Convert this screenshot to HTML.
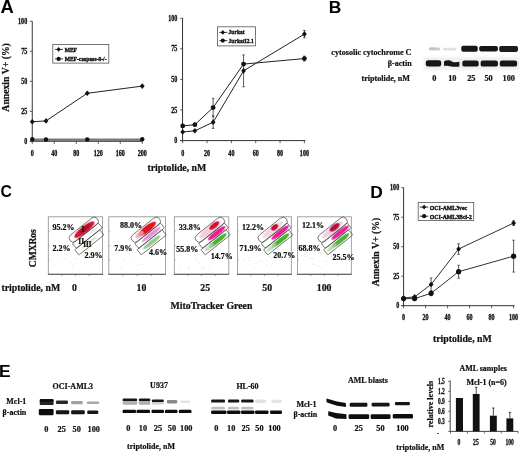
<!DOCTYPE html>
<html><head><meta charset="utf-8"><style>
html,body{margin:0;padding:0;background:#fff;}
body{width:520px;height:452px;overflow:hidden;}
svg{display:block;filter:blur(0.35px);}
</style></head><body>
<svg width="520" height="452" viewBox="0 0 520 452">
<defs>
<filter id="bl05" x="-20%" y="-20%" width="140%" height="140%"><feGaussianBlur stdDeviation="0.45"/></filter>
<filter id="bl1" x="-20%" y="-60%" width="140%" height="220%"><feGaussianBlur stdDeviation="0.55"/></filter>
<filter id="bl2" x="-10%" y="-20%" width="120%" height="140%"><feGaussianBlur stdDeviation="1.5"/></filter>
</defs>
<rect x="0" y="0" width="520" height="452" fill="#fff"/>
<text x="0.5" y="12.7" font-size="18.4" text-anchor="start" style="font-family:'Liberation Sans',sans-serif;font-weight:bold" fill="#000" >A</text>
<text x="328.8" y="12.7" font-size="17.4" text-anchor="start" style="font-family:'Liberation Sans',sans-serif;font-weight:bold" fill="#000" >B</text>
<text transform="translate(0.4,197.2) scale(0.9,1)" x="0" y="0" font-size="17.4" text-anchor="start" style="font-family:'Liberation Sans',sans-serif;font-weight:bold" fill="#000" >C</text>
<text x="370.2" y="197.6" font-size="17.4" text-anchor="start" style="font-family:'Liberation Sans',sans-serif;font-weight:bold" fill="#000" >D</text>
<text x="-0.9" y="377.0" font-size="17.4" text-anchor="start" style="font-family:'Liberation Sans',sans-serif;font-weight:bold" fill="#000" >E</text>
<line x1="32.25" y1="21.30" x2="32.25" y2="141.30" stroke="#333" stroke-width="1" />
<line x1="29.95" y1="141.30" x2="142.80" y2="141.30" stroke="#333" stroke-width="1" />
<line x1="29.95" y1="141.30" x2="32.25" y2="141.30" stroke="#333" stroke-width="0.8" />
<text transform="translate(27.2,143.9) scale(0.78,1)" x="0" y="0" font-size="7.8" text-anchor="end" style="font-family:'Liberation Serif',serif;font-weight:bold" fill="#111" stroke="#111" stroke-width="0.32" >0</text>
<line x1="29.95" y1="111.30" x2="32.25" y2="111.30" stroke="#333" stroke-width="0.8" />
<text transform="translate(27.2,113.9) scale(0.78,1)" x="0" y="0" font-size="7.8" text-anchor="end" style="font-family:'Liberation Serif',serif;font-weight:bold" fill="#111" stroke="#111" stroke-width="0.32" >25</text>
<line x1="29.95" y1="81.30" x2="32.25" y2="81.30" stroke="#333" stroke-width="0.8" />
<text transform="translate(27.2,83.9) scale(0.78,1)" x="0" y="0" font-size="7.8" text-anchor="end" style="font-family:'Liberation Serif',serif;font-weight:bold" fill="#111" stroke="#111" stroke-width="0.32" >50</text>
<line x1="29.95" y1="51.30" x2="32.25" y2="51.30" stroke="#333" stroke-width="0.8" />
<text transform="translate(27.2,53.90000000000001) scale(0.78,1)" x="0" y="0" font-size="7.8" text-anchor="end" style="font-family:'Liberation Serif',serif;font-weight:bold" fill="#111" stroke="#111" stroke-width="0.32" >75</text>
<line x1="29.95" y1="21.30" x2="32.25" y2="21.30" stroke="#333" stroke-width="0.8" />
<text transform="translate(27.2,23.900000000000013) scale(0.78,1)" x="0" y="0" font-size="7.8" text-anchor="end" style="font-family:'Liberation Serif',serif;font-weight:bold" fill="#111" stroke="#111" stroke-width="0.32" >100</text>
<line x1="32.25" y1="141.30" x2="32.25" y2="143.90" stroke="#333" stroke-width="0.8" />
<text transform="translate(32.25,155.7) scale(0.78,1)" x="0" y="0" font-size="7.8" text-anchor="middle" style="font-family:'Liberation Serif',serif;font-weight:bold" fill="#111" stroke="#111" stroke-width="0.32" >0</text>
<line x1="54.25" y1="141.30" x2="54.25" y2="143.90" stroke="#333" stroke-width="0.8" />
<text transform="translate(54.25,155.7) scale(0.78,1)" x="0" y="0" font-size="7.8" text-anchor="middle" style="font-family:'Liberation Serif',serif;font-weight:bold" fill="#111" stroke="#111" stroke-width="0.32" >40</text>
<line x1="76.25" y1="141.30" x2="76.25" y2="143.90" stroke="#333" stroke-width="0.8" />
<text transform="translate(76.25,155.7) scale(0.78,1)" x="0" y="0" font-size="7.8" text-anchor="middle" style="font-family:'Liberation Serif',serif;font-weight:bold" fill="#111" stroke="#111" stroke-width="0.32" >80</text>
<line x1="98.25" y1="141.30" x2="98.25" y2="143.90" stroke="#333" stroke-width="0.8" />
<text transform="translate(98.25,155.7) scale(0.78,1)" x="0" y="0" font-size="7.8" text-anchor="middle" style="font-family:'Liberation Serif',serif;font-weight:bold" fill="#111" stroke="#111" stroke-width="0.32" >120</text>
<line x1="120.25" y1="141.30" x2="120.25" y2="143.90" stroke="#333" stroke-width="0.8" />
<text transform="translate(120.25,155.7) scale(0.78,1)" x="0" y="0" font-size="7.8" text-anchor="middle" style="font-family:'Liberation Serif',serif;font-weight:bold" fill="#111" stroke="#111" stroke-width="0.32" >160</text>
<line x1="142.25" y1="141.30" x2="142.25" y2="143.90" stroke="#333" stroke-width="0.8" />
<text transform="translate(142.25,155.7) scale(0.78,1)" x="0" y="0" font-size="7.8" text-anchor="middle" style="font-family:'Liberation Serif',serif;font-weight:bold" fill="#111" stroke="#111" stroke-width="0.32" >200</text>
<text transform="translate(8.9,77.4) rotate(-90) scale(1.045,1)" x="0" y="0" font-size="9.3" text-anchor="middle" style="font-family:'Liberation Serif',serif;font-weight:bold" fill="#111" stroke="#111" stroke-width="0.22">Annexin V+ (%)</text>
<polyline points="32.25,139.74 46.00,139.86 87.25,139.86 142.25,139.74" fill="none" stroke="#7a7a7a" stroke-width="2.6" stroke-linejoin="round"/>
<polyline points="32.25,121.74 46.00,120.90 87.25,93.30 142.25,86.10" fill="none" stroke="#222" stroke-width="1" stroke-linejoin="round"/>
<polygon points="32.25,118.94 34.63,121.74 32.25,124.54 29.87,121.74" fill="#111"/>
<polygon points="46.00,118.10 48.38,120.90 46.00,123.70 43.62,120.90" fill="#111"/>
<polygon points="87.25,90.50 89.63,93.30 87.25,96.10 84.87,93.30" fill="#111"/>
<polygon points="142.25,83.30 144.63,86.10 142.25,88.90 139.87,86.10" fill="#111"/>
<circle cx="32.25" cy="139.14" r="2.2" fill="#111"/>
<circle cx="46.00" cy="139.50" r="2.2" fill="#111"/>
<circle cx="87.25" cy="139.50" r="2.2" fill="#111"/>
<circle cx="142.25" cy="139.14" r="2.2" fill="#111"/>
<rect x="52.8" y="44.4" width="56" height="18.7" fill="#fff" stroke="#555" stroke-width="0.8"/>
<line x1="55.00" y1="49.40" x2="63.00" y2="49.40" stroke="#222" stroke-width="0.9" />
<polygon points="58.60,47.00 60.64,49.40 58.60,51.80 56.56,49.40" fill="#111"/>
<line x1="55.00" y1="58.90" x2="63.00" y2="58.90" stroke="#222" stroke-width="0.9" />
<circle cx="58.60" cy="58.90" r="2.1" fill="#111"/>
<text transform="translate(64.7,51.6) scale(0.88,1)" x="0" y="0" font-size="6.3" text-anchor="start" style="font-family:'Liberation Serif',serif;font-weight:bold" fill="#111" stroke="#111" stroke-width="0.38" >MEF</text>
<text transform="translate(64.7,60.8) scale(0.88,1)" x="0" y="0" font-size="6.3" text-anchor="start" style="font-family:'Liberation Serif',serif;font-weight:bold" fill="#111" stroke="#111" stroke-width="0.38" >MEF-caspase-9-/-</text>
<line x1="182.55" y1="18.00" x2="182.55" y2="140.60" stroke="#333" stroke-width="1" />
<line x1="180.25" y1="140.60" x2="305.30" y2="140.60" stroke="#333" stroke-width="1" />
<line x1="180.25" y1="140.60" x2="182.55" y2="140.60" stroke="#333" stroke-width="0.8" />
<text transform="translate(177.3,143.2) scale(0.78,1)" x="0" y="0" font-size="7.8" text-anchor="end" style="font-family:'Liberation Serif',serif;font-weight:bold" fill="#111" stroke="#111" stroke-width="0.32" >0</text>
<line x1="180.25" y1="110.00" x2="182.55" y2="110.00" stroke="#333" stroke-width="0.8" />
<text transform="translate(177.3,112.6) scale(0.78,1)" x="0" y="0" font-size="7.8" text-anchor="end" style="font-family:'Liberation Serif',serif;font-weight:bold" fill="#111" stroke="#111" stroke-width="0.32" >25</text>
<line x1="180.25" y1="79.40" x2="182.55" y2="79.40" stroke="#333" stroke-width="0.8" />
<text transform="translate(177.3,81.99999999999999) scale(0.78,1)" x="0" y="0" font-size="7.8" text-anchor="end" style="font-family:'Liberation Serif',serif;font-weight:bold" fill="#111" stroke="#111" stroke-width="0.32" >50</text>
<line x1="180.25" y1="48.80" x2="182.55" y2="48.80" stroke="#333" stroke-width="0.8" />
<text transform="translate(177.3,51.399999999999984) scale(0.78,1)" x="0" y="0" font-size="7.8" text-anchor="end" style="font-family:'Liberation Serif',serif;font-weight:bold" fill="#111" stroke="#111" stroke-width="0.32" >75</text>
<line x1="180.25" y1="18.20" x2="182.55" y2="18.20" stroke="#333" stroke-width="0.8" />
<text transform="translate(177.3,20.79999999999999) scale(0.78,1)" x="0" y="0" font-size="7.8" text-anchor="end" style="font-family:'Liberation Serif',serif;font-weight:bold" fill="#111" stroke="#111" stroke-width="0.32" >100</text>
<line x1="182.70" y1="140.60" x2="182.70" y2="143.20" stroke="#333" stroke-width="0.8" />
<text transform="translate(182.7,156) scale(0.78,1)" x="0" y="0" font-size="7.8" text-anchor="middle" style="font-family:'Liberation Serif',serif;font-weight:bold" fill="#111" stroke="#111" stroke-width="0.32" >0</text>
<line x1="207.04" y1="140.60" x2="207.04" y2="143.20" stroke="#333" stroke-width="0.8" />
<text transform="translate(207.04,156) scale(0.78,1)" x="0" y="0" font-size="7.8" text-anchor="middle" style="font-family:'Liberation Serif',serif;font-weight:bold" fill="#111" stroke="#111" stroke-width="0.32" >20</text>
<line x1="231.38" y1="140.60" x2="231.38" y2="143.20" stroke="#333" stroke-width="0.8" />
<text transform="translate(231.38,156) scale(0.78,1)" x="0" y="0" font-size="7.8" text-anchor="middle" style="font-family:'Liberation Serif',serif;font-weight:bold" fill="#111" stroke="#111" stroke-width="0.32" >40</text>
<line x1="255.72" y1="140.60" x2="255.72" y2="143.20" stroke="#333" stroke-width="0.8" />
<text transform="translate(255.71999999999997,156) scale(0.78,1)" x="0" y="0" font-size="7.8" text-anchor="middle" style="font-family:'Liberation Serif',serif;font-weight:bold" fill="#111" stroke="#111" stroke-width="0.32" >60</text>
<line x1="280.06" y1="140.60" x2="280.06" y2="143.20" stroke="#333" stroke-width="0.8" />
<text transform="translate(280.06,156) scale(0.78,1)" x="0" y="0" font-size="7.8" text-anchor="middle" style="font-family:'Liberation Serif',serif;font-weight:bold" fill="#111" stroke="#111" stroke-width="0.32" >80</text>
<line x1="304.40" y1="140.60" x2="304.40" y2="143.20" stroke="#333" stroke-width="0.8" />
<text transform="translate(304.4,156) scale(0.78,1)" x="0" y="0" font-size="7.8" text-anchor="middle" style="font-family:'Liberation Serif',serif;font-weight:bold" fill="#111" stroke="#111" stroke-width="0.32" >100</text>
<line x1="213.12" y1="116.12" x2="213.12" y2="128.36" stroke="#333" stroke-width="0.8" />
<line x1="211.93" y1="116.12" x2="214.32" y2="116.12" stroke="#333" stroke-width="0.8" />
<line x1="211.93" y1="128.36" x2="214.32" y2="128.36" stroke="#333" stroke-width="0.8" />
<line x1="213.12" y1="98.37" x2="213.12" y2="116.12" stroke="#333" stroke-width="0.8" />
<line x1="211.93" y1="98.37" x2="214.32" y2="98.37" stroke="#333" stroke-width="0.8" />
<line x1="211.93" y1="116.12" x2="214.32" y2="116.12" stroke="#333" stroke-width="0.8" />
<line x1="243.55" y1="54.92" x2="243.55" y2="86.74" stroke="#333" stroke-width="0.8" />
<line x1="242.35" y1="54.92" x2="244.75" y2="54.92" stroke="#333" stroke-width="0.8" />
<line x1="242.35" y1="86.74" x2="244.75" y2="86.74" stroke="#333" stroke-width="0.8" />
<line x1="304.40" y1="30.44" x2="304.40" y2="37.78" stroke="#333" stroke-width="0.8" />
<line x1="303.20" y1="30.44" x2="305.60" y2="30.44" stroke="#333" stroke-width="0.8" />
<line x1="303.20" y1="37.78" x2="305.60" y2="37.78" stroke="#333" stroke-width="0.8" />
<line x1="304.40" y1="56.14" x2="304.40" y2="61.04" stroke="#333" stroke-width="0.8" />
<line x1="303.20" y1="56.14" x2="305.60" y2="56.14" stroke="#333" stroke-width="0.8" />
<line x1="303.20" y1="61.04" x2="305.60" y2="61.04" stroke="#333" stroke-width="0.8" />
<polyline points="182.70,132.03 194.87,130.81 213.12,122.24 243.55,70.83 304.40,34.11" fill="none" stroke="#222" stroke-width="1" stroke-linejoin="round"/>
<polyline points="182.70,125.91 194.87,124.69 213.12,107.55 243.55,64.10 304.40,58.59" fill="none" stroke="#222" stroke-width="1" stroke-linejoin="round"/>
<polygon points="182.70,129.23 185.08,132.03 182.70,134.83 180.32,132.03" fill="#111"/>
<polygon points="194.87,128.01 197.25,130.81 194.87,133.61 192.49,130.81" fill="#111"/>
<polygon points="213.12,119.44 215.50,122.24 213.12,125.04 210.75,122.24" fill="#111"/>
<polygon points="243.55,68.03 245.93,70.83 243.55,73.63 241.17,70.83" fill="#111"/>
<polygon points="304.40,31.31 306.78,34.11 304.40,36.91 302.02,34.11" fill="#111"/>
<circle cx="182.70" cy="125.91" r="2.4" fill="#111"/>
<circle cx="194.87" cy="124.69" r="2.4" fill="#111"/>
<circle cx="213.12" cy="107.55" r="2.4" fill="#111"/>
<circle cx="243.55" cy="64.10" r="2.4" fill="#111"/>
<circle cx="304.40" cy="58.59" r="2.4" fill="#111"/>
<rect x="217.5" y="26.8" width="38" height="19.1" fill="#fff" stroke="#555" stroke-width="0.8"/>
<line x1="219.40" y1="32.40" x2="227.30" y2="32.40" stroke="#222" stroke-width="0.9" />
<polygon points="222.80,30.00 224.84,32.40 222.80,34.80 220.76,32.40" fill="#111"/>
<line x1="219.40" y1="40.60" x2="227.30" y2="40.60" stroke="#222" stroke-width="0.9" />
<circle cx="222.80" cy="40.60" r="2.1" fill="#111"/>
<text transform="translate(228.6,34.3) scale(0.88,1)" x="0" y="0" font-size="6.3" text-anchor="start" style="font-family:'Liberation Serif',serif;font-weight:bold" fill="#111" stroke="#111" stroke-width="0.38" >Jurkat</text>
<text transform="translate(228.6,42.9) scale(0.88,1)" x="0" y="0" font-size="6.3" text-anchor="start" style="font-family:'Liberation Serif',serif;font-weight:bold" fill="#111" stroke="#111" stroke-width="0.38" >JurkatI2.1</text>
<text x="147.5" y="171.2" font-size="9.8" text-anchor="start" style="font-family:'Liberation Serif',serif;font-weight:bold" fill="#111" stroke="#111" stroke-width="0.22" >triptolide, nM</text>
<text transform="translate(411.5,54.8) scale(0.885,1)" x="0" y="0" font-size="9.2" text-anchor="end" style="font-family:'Liberation Serif',serif;font-weight:bold" fill="#111" stroke="#111" stroke-width="0.22" >cytosolic cytochrome C</text>
<text transform="translate(411.8,66.4) scale(0.885,1)" x="0" y="0" font-size="9.2" text-anchor="end" style="font-family:'Liberation Serif',serif;font-weight:bold" fill="#111" stroke="#111" stroke-width="0.22" >&#946;-actin</text>
<text transform="translate(410,81.0) scale(0.93,1)" x="0" y="0" font-size="8.7" text-anchor="end" style="font-family:'Liberation Serif',serif;font-weight:bold" fill="#111" stroke="#111" stroke-width="0.22" >triptolide, nM</text>
<text x="434.3" y="80.8" font-size="8.3" text-anchor="middle" style="font-family:'Liberation Serif',serif;font-weight:bold" fill="#111" stroke="#111" stroke-width="0.22" >0</text>
<text x="452.3" y="80.8" font-size="8.3" text-anchor="middle" style="font-family:'Liberation Serif',serif;font-weight:bold" fill="#111" stroke="#111" stroke-width="0.22" >10</text>
<text x="471.3" y="80.8" font-size="8.3" text-anchor="middle" style="font-family:'Liberation Serif',serif;font-weight:bold" fill="#111" stroke="#111" stroke-width="0.22" >25</text>
<text x="488.6" y="80.8" font-size="8.3" text-anchor="middle" style="font-family:'Liberation Serif',serif;font-weight:bold" fill="#111" stroke="#111" stroke-width="0.22" >50</text>
<text x="508.8" y="80.8" font-size="8.3" text-anchor="middle" style="font-family:'Liberation Serif',serif;font-weight:bold" fill="#111" stroke="#111" stroke-width="0.22" >100</text>
<rect x="424" y="57" width="96" height="13" fill="#efefef" filter="url(#bl2)"/>
<rect x="428.70" y="47.40" width="11.50" height="3.00" rx="1.5" fill="#cdcdcd" filter="url(#bl1)"/>
<rect x="429.50" y="47.60" width="6.50" height="2.00" rx="1" fill="#c0c0c0" filter="url(#bl1)"/>
<rect x="443.00" y="47.80" width="13.50" height="2.60" rx="1.5" fill="#e0e0e0" filter="url(#bl1)"/>
<rect x="461.30" y="45.80" width="16.40" height="5.90" rx="1.8" fill="#151515" filter="url(#bl1)"/>
<rect x="479.20" y="45.90" width="18.70" height="5.50" rx="1.8" fill="#191919" filter="url(#bl1)"/>
<rect x="499.20" y="45.90" width="18.80" height="6.00" rx="1.8" fill="#1b1b1b" filter="url(#bl1)"/>
<rect x="425.80" y="60.30" width="15.40" height="6.20" rx="2.2" fill="#121212" filter="url(#bl1)"/>
<path d="M444,61.2 C447,59.6 450,60.0 452,61.4 C454.5,62.8 457,62.0 459.4,61.8 L459.4,66.6 C455,67.2 450,66.4 447,65.8 C445.5,65.6 444.2,65.8 444,66.0 Z" fill="#161616" filter="url(#bl1)"/>
<rect x="462.30" y="60.60" width="16.40" height="6.00" rx="2.2" fill="#121212" filter="url(#bl1)"/>
<rect x="480.60" y="60.60" width="17.30" height="6.00" rx="2.2" fill="#121212" filter="url(#bl1)"/>
<rect x="499.80" y="60.60" width="17.30" height="6.00" rx="2.2" fill="#121212" filter="url(#bl1)"/>
<rect x="48.3" y="216.8" width="54.30" height="57.50" fill="#fff" stroke="#8e8e8e" stroke-width="0.8"/>
<line x1="47.90" y1="274.30" x2="103.00" y2="274.30" stroke="#505050" stroke-width="1.1" />
<line x1="48.30" y1="231.18" x2="49.80" y2="231.18" stroke="#999" stroke-width="0.6" />
<line x1="61.88" y1="274.30" x2="61.88" y2="275.90" stroke="#666" stroke-width="0.7" />
<line x1="48.30" y1="245.55" x2="49.80" y2="245.55" stroke="#999" stroke-width="0.6" />
<line x1="75.45" y1="274.30" x2="75.45" y2="275.90" stroke="#666" stroke-width="0.7" />
<line x1="48.30" y1="259.93" x2="49.80" y2="259.93" stroke="#999" stroke-width="0.6" />
<line x1="89.02" y1="274.30" x2="89.02" y2="275.90" stroke="#666" stroke-width="0.7" />
<circle cx="61.27" cy="257.17" r="0.5" fill="#cfcfcf"/>
<circle cx="65.14" cy="258.75" r="0.5" fill="#cfcfcf"/>
<circle cx="72.63" cy="244.42" r="0.5" fill="#cfcfcf"/>
<circle cx="54.69" cy="264.97" r="0.5" fill="#cfcfcf"/>
<circle cx="61.90" cy="248.91" r="0.5" fill="#cfcfcf"/>
<circle cx="83.47" cy="255.20" r="0.5" fill="#cfcfcf"/>
<circle cx="78.80" cy="255.36" r="0.5" fill="#cfcfcf"/>
<circle cx="73.02" cy="246.69" r="0.5" fill="#cfcfcf"/>
<circle cx="72.90" cy="265.79" r="0.5" fill="#cfcfcf"/>
<circle cx="69.63" cy="262.41" r="0.5" fill="#cfcfcf"/>
<circle cx="73.97" cy="244.38" r="0.5" fill="#cfcfcf"/>
<circle cx="76.51" cy="258.41" r="0.5" fill="#cfcfcf"/>
<g transform="translate(48.30,216.8)">
<ellipse cx="0" cy="0" rx="12.5" ry="3.6" transform="translate(35.46935779816514,12.9) rotate(-38.5) translate(0.5,0.3)" fill="#dc1430" opacity="1" filter="url(#bl05)"/>
<ellipse cx="0" cy="0" rx="7" ry="2.2" transform="translate(35.46935779816514,12.9) rotate(-38.5) translate(2,0)" fill="#b80c28" opacity="1" filter="url(#bl05)"/>
<ellipse cx="0" cy="0" rx="5" ry="1.4" transform="translate(39.05614678899083,18.9) rotate(-38.5) translate(8,0)" fill="#f4c8dc" opacity="0.5" filter="url(#bl05)"/>
<ellipse cx="0" cy="0" rx="10" ry="1.5" transform="translate(41.048807339449546,25.5) rotate(-38.5) translate(0,0)" fill="#c4e2bc" opacity="0.7" filter="url(#bl05)"/>
<rect x="-17.5" y="-4.1" width="35" height="8.2" rx="4.0" transform="translate(35.46935779816514,12.9) rotate(-38.5)" fill="none" stroke="#4a4a4a" stroke-width="0.7"/>
<rect x="-16.5" y="-3.2" width="33" height="6.4" rx="1.0" transform="translate(39.05614678899083,18.9) rotate(-38.5)" fill="none" stroke="#4a4a4a" stroke-width="0.7"/>
<rect x="-16.0" y="-3.4" width="32" height="6.8" rx="1.0" transform="translate(41.048807339449546,25.5) rotate(-38.5)" fill="none" stroke="#4a4a4a" stroke-width="0.7"/>
</g>
<text x="52.5" y="229.8" font-size="8.0" text-anchor="start" style="font-family:'Liberation Serif',serif;font-weight:bold" fill="#111" stroke="#111" stroke-width="0.22" >95.2%</text>
<text x="52.5" y="251.0" font-size="8.0" text-anchor="start" style="font-family:'Liberation Serif',serif;font-weight:bold" fill="#111" stroke="#111" stroke-width="0.22" >2.2%</text>
<text x="84.6" y="258.3" font-size="8.0" text-anchor="start" style="font-family:'Liberation Serif',serif;font-weight:bold" fill="#111" stroke="#111" stroke-width="0.22" >2.9%</text>
<rect x="108.8" y="216.8" width="56.70" height="57.50" fill="#fff" stroke="#8e8e8e" stroke-width="0.8"/>
<line x1="108.40" y1="274.30" x2="165.90" y2="274.30" stroke="#505050" stroke-width="1.1" />
<line x1="108.80" y1="231.18" x2="110.30" y2="231.18" stroke="#999" stroke-width="0.6" />
<line x1="122.97" y1="274.30" x2="122.97" y2="275.90" stroke="#666" stroke-width="0.7" />
<line x1="108.80" y1="245.55" x2="110.30" y2="245.55" stroke="#999" stroke-width="0.6" />
<line x1="137.15" y1="274.30" x2="137.15" y2="275.90" stroke="#666" stroke-width="0.7" />
<line x1="108.80" y1="259.93" x2="110.30" y2="259.93" stroke="#999" stroke-width="0.6" />
<line x1="151.32" y1="274.30" x2="151.32" y2="275.90" stroke="#666" stroke-width="0.7" />
<circle cx="122.08" cy="245.42" r="0.5" fill="#cfcfcf"/>
<circle cx="127.02" cy="246.80" r="0.5" fill="#cfcfcf"/>
<circle cx="116.85" cy="253.37" r="0.5" fill="#cfcfcf"/>
<circle cx="143.12" cy="263.99" r="0.5" fill="#cfcfcf"/>
<circle cx="138.41" cy="248.58" r="0.5" fill="#cfcfcf"/>
<circle cx="131.36" cy="250.04" r="0.5" fill="#cfcfcf"/>
<circle cx="120.13" cy="245.50" r="0.5" fill="#cfcfcf"/>
<circle cx="121.42" cy="267.37" r="0.5" fill="#cfcfcf"/>
<circle cx="140.38" cy="264.15" r="0.5" fill="#cfcfcf"/>
<circle cx="139.50" cy="247.83" r="0.5" fill="#cfcfcf"/>
<circle cx="124.36" cy="259.37" r="0.5" fill="#cfcfcf"/>
<circle cx="137.38" cy="265.43" r="0.5" fill="#cfcfcf"/>
<circle cx="141.95" cy="244.98" r="0.5" fill="#cfcfcf"/>
<circle cx="133.49" cy="260.56" r="0.5" fill="#cfcfcf"/>
<circle cx="130.41" cy="247.41" r="0.5" fill="#cfcfcf"/>
<g transform="translate(108.80,216.8)">
<ellipse cx="0" cy="0" rx="11" ry="3.2" transform="translate(37.03706422018349,12.9) rotate(-38.5) translate(1.5,0.2)" fill="#e0141e" opacity="1" filter="url(#bl05)"/>
<ellipse cx="0" cy="0" rx="5" ry="2.5" transform="translate(37.03706422018349,12.9) rotate(-38.5) translate(-8,0)" fill="#f4a0b8" opacity="0.8" filter="url(#bl05)"/>
<ellipse cx="0" cy="0" rx="12" ry="2.2" transform="translate(40.782385321100925,18.9) rotate(-38.5) translate(2,0)" fill="#e08ad8" opacity="0.9" filter="url(#bl05)"/>
<ellipse cx="0" cy="0" rx="11" ry="2.0" transform="translate(42.86311926605505,25.5) rotate(-38.5) translate(0,0)" fill="#7ac070" opacity="0.8" filter="url(#bl05)"/>
<rect x="-17.5" y="-4.1" width="35" height="8.2" rx="4.0" transform="translate(37.03706422018349,12.9) rotate(-38.5)" fill="none" stroke="#4a4a4a" stroke-width="0.7"/>
<rect x="-16.5" y="-3.2" width="33" height="6.4" rx="1.0" transform="translate(40.782385321100925,18.9) rotate(-38.5)" fill="none" stroke="#4a4a4a" stroke-width="0.7"/>
<rect x="-16.0" y="-3.4" width="32" height="6.8" rx="1.0" transform="translate(42.86311926605505,25.5) rotate(-38.5)" fill="none" stroke="#4a4a4a" stroke-width="0.7"/>
</g>
<text x="120" y="227.5" font-size="8.0" text-anchor="start" style="font-family:'Liberation Serif',serif;font-weight:bold" fill="#111" stroke="#111" stroke-width="0.22" >88.0%</text>
<text x="114.3" y="250.9" font-size="8.0" text-anchor="start" style="font-family:'Liberation Serif',serif;font-weight:bold" fill="#111" stroke="#111" stroke-width="0.22" >7.9%</text>
<text x="149" y="255.4" font-size="8.0" text-anchor="start" style="font-family:'Liberation Serif',serif;font-weight:bold" fill="#111" stroke="#111" stroke-width="0.22" >4.6%</text>
<rect x="174.3" y="216.8" width="54.50" height="57.50" fill="#fff" stroke="#8e8e8e" stroke-width="0.8"/>
<line x1="173.90" y1="274.30" x2="229.20" y2="274.30" stroke="#505050" stroke-width="1.1" />
<line x1="174.30" y1="231.18" x2="175.80" y2="231.18" stroke="#999" stroke-width="0.6" />
<line x1="187.93" y1="274.30" x2="187.93" y2="275.90" stroke="#666" stroke-width="0.7" />
<line x1="174.30" y1="245.55" x2="175.80" y2="245.55" stroke="#999" stroke-width="0.6" />
<line x1="201.55" y1="274.30" x2="201.55" y2="275.90" stroke="#666" stroke-width="0.7" />
<line x1="174.30" y1="259.93" x2="175.80" y2="259.93" stroke="#999" stroke-width="0.6" />
<line x1="215.18" y1="274.30" x2="215.18" y2="275.90" stroke="#666" stroke-width="0.7" />
<circle cx="198.63" cy="262.43" r="0.5" fill="#cfcfcf"/>
<circle cx="203.70" cy="267.77" r="0.5" fill="#cfcfcf"/>
<circle cx="202.07" cy="267.23" r="0.5" fill="#cfcfcf"/>
<circle cx="181.15" cy="255.07" r="0.5" fill="#cfcfcf"/>
<circle cx="208.06" cy="259.95" r="0.5" fill="#cfcfcf"/>
<circle cx="206.81" cy="245.69" r="0.5" fill="#cfcfcf"/>
<circle cx="194.10" cy="249.24" r="0.5" fill="#cfcfcf"/>
<circle cx="196.30" cy="257.96" r="0.5" fill="#cfcfcf"/>
<circle cx="180.69" cy="248.45" r="0.5" fill="#cfcfcf"/>
<circle cx="188.52" cy="267.07" r="0.5" fill="#cfcfcf"/>
<circle cx="202.83" cy="246.92" r="0.5" fill="#cfcfcf"/>
<circle cx="203.76" cy="246.37" r="0.5" fill="#cfcfcf"/>
<circle cx="198.47" cy="246.05" r="0.5" fill="#cfcfcf"/>
<circle cx="180.35" cy="265.88" r="0.5" fill="#cfcfcf"/>
<circle cx="186.46" cy="248.41" r="0.5" fill="#cfcfcf"/>
<circle cx="209.21" cy="265.90" r="0.5" fill="#cfcfcf"/>
<circle cx="188.81" cy="268.27" r="0.5" fill="#cfcfcf"/>
<circle cx="196.17" cy="260.72" r="0.5" fill="#cfcfcf"/>
<g transform="translate(174.30,216.8)">
<ellipse cx="0" cy="0" rx="13" ry="3.4" transform="translate(35.6,12.9) rotate(-38.5) translate(0,0)" fill="#f2c2d8" opacity="0.8" filter="url(#bl05)"/>
<ellipse cx="0" cy="0" rx="6" ry="2.6" transform="translate(35.6,12.9) rotate(-38.5) translate(6,-0.5)" fill="#d8102c" opacity="1" filter="url(#bl05)"/>
<ellipse cx="0" cy="0" rx="11" ry="2.6" transform="translate(39.2,18.9) rotate(-38.5) translate(4,0)" fill="#ec1c96" opacity="1" filter="url(#bl05)"/>
<ellipse cx="0" cy="0" rx="11" ry="2.3" transform="translate(41.2,25.5) rotate(-38.5) translate(3,0)" fill="#4cb030" opacity="1" filter="url(#bl05)"/>
<ellipse cx="0" cy="0" rx="6" ry="1.8" transform="translate(41.2,25.5) rotate(-38.5) translate(-8,0)" fill="#a8d8a0" opacity="0.8" filter="url(#bl05)"/>
<rect x="-17.5" y="-4.1" width="35" height="8.2" rx="4.0" transform="translate(35.6,12.9) rotate(-38.5)" fill="none" stroke="#4a4a4a" stroke-width="0.7"/>
<rect x="-16.5" y="-3.2" width="33" height="6.4" rx="1.0" transform="translate(39.2,18.9) rotate(-38.5)" fill="none" stroke="#4a4a4a" stroke-width="0.7"/>
<rect x="-16.0" y="-3.4" width="32" height="6.8" rx="1.0" transform="translate(41.2,25.5) rotate(-38.5)" fill="none" stroke="#4a4a4a" stroke-width="0.7"/>
</g>
<text x="178.75" y="229.5" font-size="8.0" text-anchor="start" style="font-family:'Liberation Serif',serif;font-weight:bold" fill="#111" stroke="#111" stroke-width="0.22" >33.8%</text>
<text x="176.25" y="251.5" font-size="8.0" text-anchor="start" style="font-family:'Liberation Serif',serif;font-weight:bold" fill="#111" stroke="#111" stroke-width="0.22" >55.8%</text>
<text x="210.75" y="258.75" font-size="8.0" text-anchor="start" style="font-family:'Liberation Serif',serif;font-weight:bold" fill="#111" stroke="#111" stroke-width="0.22" >14.7%</text>
<rect x="237.5" y="216.8" width="53.80" height="57.50" fill="#fff" stroke="#8e8e8e" stroke-width="0.8"/>
<line x1="237.10" y1="274.30" x2="291.70" y2="274.30" stroke="#505050" stroke-width="1.1" />
<line x1="237.50" y1="231.18" x2="239.00" y2="231.18" stroke="#999" stroke-width="0.6" />
<line x1="250.95" y1="274.30" x2="250.95" y2="275.90" stroke="#666" stroke-width="0.7" />
<line x1="237.50" y1="245.55" x2="239.00" y2="245.55" stroke="#999" stroke-width="0.6" />
<line x1="264.40" y1="274.30" x2="264.40" y2="275.90" stroke="#666" stroke-width="0.7" />
<line x1="237.50" y1="259.93" x2="239.00" y2="259.93" stroke="#999" stroke-width="0.6" />
<line x1="277.85" y1="274.30" x2="277.85" y2="275.90" stroke="#666" stroke-width="0.7" />
<circle cx="266.48" cy="264.56" r="0.5" fill="#cfcfcf"/>
<circle cx="257.55" cy="249.64" r="0.5" fill="#cfcfcf"/>
<circle cx="243.51" cy="260.32" r="0.5" fill="#cfcfcf"/>
<circle cx="257.12" cy="262.90" r="0.5" fill="#cfcfcf"/>
<circle cx="254.31" cy="263.18" r="0.5" fill="#cfcfcf"/>
<circle cx="251.40" cy="264.03" r="0.5" fill="#cfcfcf"/>
<circle cx="264.64" cy="253.70" r="0.5" fill="#cfcfcf"/>
<circle cx="259.09" cy="260.83" r="0.5" fill="#cfcfcf"/>
<circle cx="249.09" cy="257.42" r="0.5" fill="#cfcfcf"/>
<circle cx="266.82" cy="249.74" r="0.5" fill="#cfcfcf"/>
<circle cx="266.77" cy="260.93" r="0.5" fill="#cfcfcf"/>
<circle cx="267.96" cy="251.61" r="0.5" fill="#cfcfcf"/>
<circle cx="246.20" cy="263.98" r="0.5" fill="#cfcfcf"/>
<circle cx="266.81" cy="254.53" r="0.5" fill="#cfcfcf"/>
<circle cx="246.22" cy="247.92" r="0.5" fill="#cfcfcf"/>
<circle cx="261.89" cy="250.43" r="0.5" fill="#cfcfcf"/>
<circle cx="271.06" cy="258.35" r="0.5" fill="#cfcfcf"/>
<circle cx="249.32" cy="260.13" r="0.5" fill="#cfcfcf"/>
<circle cx="253.94" cy="267.51" r="0.5" fill="#cfcfcf"/>
<circle cx="269.85" cy="256.38" r="0.5" fill="#cfcfcf"/>
<circle cx="262.17" cy="261.26" r="0.5" fill="#cfcfcf"/>
<g transform="translate(237.50,216.8)">
<ellipse cx="0" cy="0" rx="13" ry="3.3" transform="translate(35.14275229357799,12.9) rotate(-38.5) translate(0,0)" fill="#f4cce0" opacity="0.8" filter="url(#bl05)"/>
<ellipse cx="0" cy="0" rx="4" ry="2.4" transform="translate(35.14275229357799,12.9) rotate(-38.5) translate(3,-0.6)" fill="#c8102c" opacity="1" filter="url(#bl05)"/>
<ellipse cx="0" cy="0" rx="11" ry="2.5" transform="translate(38.6965137614679,18.9) rotate(-38.5) translate(5,0)" fill="#ec1c96" opacity="1" filter="url(#bl05)"/>
<ellipse cx="0" cy="0" rx="11" ry="2.3" transform="translate(40.67082568807341,25.5) rotate(-38.5) translate(3,0)" fill="#48b02c" opacity="1" filter="url(#bl05)"/>
<ellipse cx="0" cy="0" rx="6" ry="1.8" transform="translate(40.67082568807341,25.5) rotate(-38.5) translate(-8,0)" fill="#a8d8a0" opacity="0.8" filter="url(#bl05)"/>
<rect x="-17.5" y="-4.1" width="35" height="8.2" rx="4.0" transform="translate(35.14275229357799,12.9) rotate(-38.5)" fill="none" stroke="#4a4a4a" stroke-width="0.7"/>
<rect x="-16.5" y="-3.2" width="33" height="6.4" rx="1.0" transform="translate(38.6965137614679,18.9) rotate(-38.5)" fill="none" stroke="#4a4a4a" stroke-width="0.7"/>
<rect x="-16.0" y="-3.4" width="32" height="6.8" rx="1.0" transform="translate(40.67082568807341,25.5) rotate(-38.5)" fill="none" stroke="#4a4a4a" stroke-width="0.7"/>
</g>
<text x="242" y="229.5" font-size="8.0" text-anchor="start" style="font-family:'Liberation Serif',serif;font-weight:bold" fill="#111" stroke="#111" stroke-width="0.22" >12.2%</text>
<text x="239.5" y="251.0" font-size="8.0" text-anchor="start" style="font-family:'Liberation Serif',serif;font-weight:bold" fill="#111" stroke="#111" stroke-width="0.22" >71.9%</text>
<text x="273.25" y="257.5" font-size="8.0" text-anchor="start" style="font-family:'Liberation Serif',serif;font-weight:bold" fill="#111" stroke="#111" stroke-width="0.22" >20.7%</text>
<rect x="297.5" y="216.8" width="53.80" height="57.50" fill="#fff" stroke="#8e8e8e" stroke-width="0.8"/>
<line x1="297.10" y1="274.30" x2="351.70" y2="274.30" stroke="#505050" stroke-width="1.1" />
<line x1="297.50" y1="231.18" x2="299.00" y2="231.18" stroke="#999" stroke-width="0.6" />
<line x1="310.95" y1="274.30" x2="310.95" y2="275.90" stroke="#666" stroke-width="0.7" />
<line x1="297.50" y1="245.55" x2="299.00" y2="245.55" stroke="#999" stroke-width="0.6" />
<line x1="324.40" y1="274.30" x2="324.40" y2="275.90" stroke="#666" stroke-width="0.7" />
<line x1="297.50" y1="259.93" x2="299.00" y2="259.93" stroke="#999" stroke-width="0.6" />
<line x1="337.85" y1="274.30" x2="337.85" y2="275.90" stroke="#666" stroke-width="0.7" />
<circle cx="312.88" cy="246.69" r="0.5" fill="#cfcfcf"/>
<circle cx="322.36" cy="244.60" r="0.5" fill="#cfcfcf"/>
<circle cx="319.02" cy="252.41" r="0.5" fill="#cfcfcf"/>
<circle cx="305.18" cy="256.19" r="0.5" fill="#cfcfcf"/>
<circle cx="304.59" cy="254.22" r="0.5" fill="#cfcfcf"/>
<circle cx="305.52" cy="245.09" r="0.5" fill="#cfcfcf"/>
<circle cx="315.80" cy="264.69" r="0.5" fill="#cfcfcf"/>
<circle cx="307.09" cy="248.62" r="0.5" fill="#cfcfcf"/>
<circle cx="321.68" cy="267.91" r="0.5" fill="#cfcfcf"/>
<circle cx="320.22" cy="253.24" r="0.5" fill="#cfcfcf"/>
<circle cx="331.78" cy="243.92" r="0.5" fill="#cfcfcf"/>
<circle cx="328.37" cy="250.39" r="0.5" fill="#cfcfcf"/>
<circle cx="307.68" cy="245.81" r="0.5" fill="#cfcfcf"/>
<circle cx="312.44" cy="264.40" r="0.5" fill="#cfcfcf"/>
<circle cx="308.74" cy="258.16" r="0.5" fill="#cfcfcf"/>
<circle cx="322.01" cy="252.59" r="0.5" fill="#cfcfcf"/>
<circle cx="319.37" cy="244.35" r="0.5" fill="#cfcfcf"/>
<circle cx="305.23" cy="248.16" r="0.5" fill="#cfcfcf"/>
<circle cx="323.21" cy="254.06" r="0.5" fill="#cfcfcf"/>
<circle cx="312.60" cy="258.27" r="0.5" fill="#cfcfcf"/>
<circle cx="316.63" cy="250.66" r="0.5" fill="#cfcfcf"/>
<circle cx="326.51" cy="261.29" r="0.5" fill="#cfcfcf"/>
<circle cx="310.57" cy="257.97" r="0.5" fill="#cfcfcf"/>
<circle cx="318.71" cy="265.98" r="0.5" fill="#cfcfcf"/>
<g transform="translate(297.50,216.8)">
<ellipse cx="0" cy="0" rx="13" ry="3.3" transform="translate(35.14275229357799,12.9) rotate(-38.5) translate(0,0)" fill="#f0c8dc" opacity="0.8" filter="url(#bl05)"/>
<ellipse cx="0" cy="0" rx="6" ry="2.8" transform="translate(35.14275229357799,12.9) rotate(-38.5) translate(3,-0.6)" fill="#b8103c" opacity="1" filter="url(#bl05)"/>
<ellipse cx="0" cy="0" rx="11" ry="2.5" transform="translate(38.6965137614679,18.9) rotate(-38.5) translate(5,0)" fill="#e8209a" opacity="1" filter="url(#bl05)"/>
<ellipse cx="0" cy="0" rx="11" ry="2.3" transform="translate(40.67082568807341,25.5) rotate(-38.5) translate(3,0)" fill="#50b030" opacity="1" filter="url(#bl05)"/>
<ellipse cx="0" cy="0" rx="6" ry="1.8" transform="translate(40.67082568807341,25.5) rotate(-38.5) translate(-8,0)" fill="#a8d8a0" opacity="0.8" filter="url(#bl05)"/>
<rect x="-17.5" y="-4.1" width="35" height="8.2" rx="4.0" transform="translate(35.14275229357799,12.9) rotate(-38.5)" fill="none" stroke="#4a4a4a" stroke-width="0.7"/>
<rect x="-16.5" y="-3.2" width="33" height="6.4" rx="1.0" transform="translate(38.6965137614679,18.9) rotate(-38.5)" fill="none" stroke="#4a4a4a" stroke-width="0.7"/>
<rect x="-16.0" y="-3.4" width="32" height="6.8" rx="1.0" transform="translate(40.67082568807341,25.5) rotate(-38.5)" fill="none" stroke="#4a4a4a" stroke-width="0.7"/>
</g>
<text x="302" y="228.0" font-size="8.0" text-anchor="start" style="font-family:'Liberation Serif',serif;font-weight:bold" fill="#111" stroke="#111" stroke-width="0.22" >12.1%</text>
<text x="298.5" y="250.75" font-size="8.0" text-anchor="start" style="font-family:'Liberation Serif',serif;font-weight:bold" fill="#111" stroke="#111" stroke-width="0.22" >68.8%</text>
<text x="332.6" y="259.6" font-size="8.0" text-anchor="start" style="font-family:'Liberation Serif',serif;font-weight:bold" fill="#111" stroke="#111" stroke-width="0.22" >25.5%</text>
<text x="82.9" y="231.8" font-size="7.4" text-anchor="middle" style="font-family:'Liberation Serif',serif;font-weight:bold" fill="#111" stroke="#111" stroke-width="0.22" >I</text>
<text x="81.2" y="243.6" font-size="7.4" text-anchor="middle" style="font-family:'Liberation Serif',serif;font-weight:bold" fill="#111" stroke="#111" stroke-width="0.22" >II</text>
<text transform="translate(87.4,246.8) scale(0.85,1)" x="0" y="0" font-size="8.4" text-anchor="middle" style="font-family:'Liberation Serif',serif;font-weight:bold" fill="#111" stroke="#111" stroke-width="0.22" >III</text>
<text transform="translate(36.4,248.2) rotate(-90) scale(1.0,1)" x="0" y="0" font-size="9.5" text-anchor="middle" style="font-family:'Liberation Serif',serif;font-weight:bold" fill="#111" stroke="#111" stroke-width="0.22">CMXRos</text>
<text x="1.4" y="291.3" font-size="9.8" text-anchor="start" style="font-family:'Liberation Serif',serif;font-weight:bold" fill="#111" stroke="#111" stroke-width="0.22" >triptolide, nM</text>
<text x="74.5" y="291.0" font-size="9.8" text-anchor="middle" style="font-family:'Liberation Serif',serif;font-weight:bold" fill="#111" stroke="#111" stroke-width="0.22" >0</text>
<text x="141.5" y="291.0" font-size="9.8" text-anchor="middle" style="font-family:'Liberation Serif',serif;font-weight:bold" fill="#111" stroke="#111" stroke-width="0.22" >10</text>
<text x="205.2" y="291.0" font-size="9.8" text-anchor="middle" style="font-family:'Liberation Serif',serif;font-weight:bold" fill="#111" stroke="#111" stroke-width="0.22" >25</text>
<text x="267.2" y="291.0" font-size="9.8" text-anchor="middle" style="font-family:'Liberation Serif',serif;font-weight:bold" fill="#111" stroke="#111" stroke-width="0.22" >50</text>
<text x="324.1" y="291.0" font-size="9.8" text-anchor="middle" style="font-family:'Liberation Serif',serif;font-weight:bold" fill="#111" stroke="#111" stroke-width="0.22" >100</text>
<text x="170.5" y="308.5" font-size="9.8" text-anchor="start" style="font-family:'Liberation Serif',serif;font-weight:bold" fill="#111" stroke="#111" stroke-width="0.22" >MitoTracker Green</text>
<line x1="403.60" y1="187.50" x2="403.60" y2="305.70" stroke="#333" stroke-width="1" />
<line x1="401.30" y1="305.70" x2="514.50" y2="305.70" stroke="#333" stroke-width="1" />
<line x1="401.30" y1="305.70" x2="403.60" y2="305.70" stroke="#333" stroke-width="0.8" />
<text transform="translate(399.2,308.3) scale(0.78,1)" x="0" y="0" font-size="7.8" text-anchor="end" style="font-family:'Liberation Serif',serif;font-weight:bold" fill="#111" stroke="#111" stroke-width="0.32" >0</text>
<line x1="401.30" y1="276.20" x2="403.60" y2="276.20" stroke="#333" stroke-width="0.8" />
<text transform="translate(399.2,278.8) scale(0.78,1)" x="0" y="0" font-size="7.8" text-anchor="end" style="font-family:'Liberation Serif',serif;font-weight:bold" fill="#111" stroke="#111" stroke-width="0.32" >25</text>
<line x1="401.30" y1="246.70" x2="403.60" y2="246.70" stroke="#333" stroke-width="0.8" />
<text transform="translate(399.2,249.29999999999998) scale(0.78,1)" x="0" y="0" font-size="7.8" text-anchor="end" style="font-family:'Liberation Serif',serif;font-weight:bold" fill="#111" stroke="#111" stroke-width="0.32" >50</text>
<line x1="401.30" y1="217.20" x2="403.60" y2="217.20" stroke="#333" stroke-width="0.8" />
<text transform="translate(399.2,219.79999999999998) scale(0.78,1)" x="0" y="0" font-size="7.8" text-anchor="end" style="font-family:'Liberation Serif',serif;font-weight:bold" fill="#111" stroke="#111" stroke-width="0.32" >75</text>
<line x1="401.30" y1="187.70" x2="403.60" y2="187.70" stroke="#333" stroke-width="0.8" />
<text transform="translate(399.2,190.29999999999998) scale(0.78,1)" x="0" y="0" font-size="7.8" text-anchor="end" style="font-family:'Liberation Serif',serif;font-weight:bold" fill="#111" stroke="#111" stroke-width="0.32" >100</text>
<line x1="403.60" y1="305.70" x2="403.60" y2="308.30" stroke="#333" stroke-width="0.8" />
<text transform="translate(403.6,320.4) scale(0.78,1)" x="0" y="0" font-size="7.8" text-anchor="middle" style="font-family:'Liberation Serif',serif;font-weight:bold" fill="#111" stroke="#111" stroke-width="0.32" >0</text>
<line x1="425.60" y1="305.70" x2="425.60" y2="308.30" stroke="#333" stroke-width="0.8" />
<text transform="translate(425.6,320.4) scale(0.78,1)" x="0" y="0" font-size="7.8" text-anchor="middle" style="font-family:'Liberation Serif',serif;font-weight:bold" fill="#111" stroke="#111" stroke-width="0.32" >20</text>
<line x1="447.60" y1="305.70" x2="447.60" y2="308.30" stroke="#333" stroke-width="0.8" />
<text transform="translate(447.6,320.4) scale(0.78,1)" x="0" y="0" font-size="7.8" text-anchor="middle" style="font-family:'Liberation Serif',serif;font-weight:bold" fill="#111" stroke="#111" stroke-width="0.32" >40</text>
<line x1="469.60" y1="305.70" x2="469.60" y2="308.30" stroke="#333" stroke-width="0.8" />
<text transform="translate(469.6,320.4) scale(0.78,1)" x="0" y="0" font-size="7.8" text-anchor="middle" style="font-family:'Liberation Serif',serif;font-weight:bold" fill="#111" stroke="#111" stroke-width="0.32" >60</text>
<line x1="491.60" y1="305.70" x2="491.60" y2="308.30" stroke="#333" stroke-width="0.8" />
<text transform="translate(491.6,320.4) scale(0.78,1)" x="0" y="0" font-size="7.8" text-anchor="middle" style="font-family:'Liberation Serif',serif;font-weight:bold" fill="#111" stroke="#111" stroke-width="0.32" >80</text>
<line x1="513.60" y1="305.70" x2="513.60" y2="308.30" stroke="#333" stroke-width="0.8" />
<text transform="translate(513.6,320.4) scale(0.78,1)" x="0" y="0" font-size="7.8" text-anchor="middle" style="font-family:'Liberation Serif',serif;font-weight:bold" fill="#111" stroke="#111" stroke-width="0.32" >100</text>
<line x1="431.10" y1="277.97" x2="431.10" y2="290.95" stroke="#333" stroke-width="0.8" />
<line x1="429.90" y1="277.97" x2="432.30" y2="277.97" stroke="#333" stroke-width="0.8" />
<line x1="429.90" y1="290.95" x2="432.30" y2="290.95" stroke="#333" stroke-width="0.8" />
<line x1="458.60" y1="243.75" x2="458.60" y2="254.37" stroke="#333" stroke-width="0.8" />
<line x1="457.40" y1="243.75" x2="459.80" y2="243.75" stroke="#333" stroke-width="0.8" />
<line x1="457.40" y1="254.37" x2="459.80" y2="254.37" stroke="#333" stroke-width="0.8" />
<line x1="513.60" y1="220.74" x2="513.60" y2="225.46" stroke="#333" stroke-width="0.8" />
<line x1="512.40" y1="220.74" x2="514.80" y2="220.74" stroke="#333" stroke-width="0.8" />
<line x1="512.40" y1="225.46" x2="514.80" y2="225.46" stroke="#333" stroke-width="0.8" />
<line x1="458.60" y1="265.23" x2="458.60" y2="278.21" stroke="#333" stroke-width="0.8" />
<line x1="457.40" y1="265.23" x2="459.80" y2="265.23" stroke="#333" stroke-width="0.8" />
<line x1="457.40" y1="278.21" x2="459.80" y2="278.21" stroke="#333" stroke-width="0.8" />
<line x1="513.60" y1="240.21" x2="513.60" y2="272.07" stroke="#333" stroke-width="0.8" />
<line x1="512.40" y1="240.21" x2="514.80" y2="240.21" stroke="#333" stroke-width="0.8" />
<line x1="512.40" y1="272.07" x2="514.80" y2="272.07" stroke="#333" stroke-width="0.8" />
<line x1="431.10" y1="290.95" x2="431.10" y2="295.67" stroke="#333" stroke-width="0.8" />
<line x1="429.90" y1="290.95" x2="432.30" y2="290.95" stroke="#333" stroke-width="0.8" />
<line x1="429.90" y1="295.67" x2="432.30" y2="295.67" stroke="#333" stroke-width="0.8" />
<polyline points="403.60,298.03 414.60,296.85 431.10,284.46 458.60,249.06 513.60,223.10" fill="none" stroke="#333" stroke-width="1" stroke-linejoin="round"/>
<polyline points="403.60,298.62 414.60,298.62 431.10,293.31 458.60,271.72 513.60,256.14" fill="none" stroke="#333" stroke-width="1" stroke-linejoin="round"/>
<polygon points="403.60,295.23 405.98,298.03 403.60,300.83 401.22,298.03" fill="#111"/>
<polygon points="414.60,294.05 416.98,296.85 414.60,299.65 412.22,296.85" fill="#111"/>
<polygon points="431.10,281.66 433.48,284.46 431.10,287.26 428.72,284.46" fill="#111"/>
<polygon points="458.60,246.26 460.98,249.06 458.60,251.86 456.22,249.06" fill="#111"/>
<polygon points="513.60,220.30 515.98,223.10 513.60,225.90 511.22,223.10" fill="#111"/>
<circle cx="403.60" cy="298.62" r="2.6" fill="#111"/>
<circle cx="414.60" cy="298.62" r="2.6" fill="#111"/>
<circle cx="431.10" cy="293.31" r="2.6" fill="#111"/>
<circle cx="458.60" cy="271.72" r="2.6" fill="#111"/>
<circle cx="513.60" cy="256.14" r="2.6" fill="#111"/>
<rect x="418.2" y="202.4" width="55.5" height="18" fill="#fff" stroke="#555" stroke-width="0.8"/>
<line x1="419.80" y1="207.10" x2="428.30" y2="207.10" stroke="#222" stroke-width="0.9" />
<polygon points="424.10,204.70 426.14,207.10 424.10,209.50 422.06,207.10" fill="#111"/>
<line x1="419.80" y1="216.20" x2="428.30" y2="216.20" stroke="#222" stroke-width="0.9" />
<circle cx="424.10" cy="216.20" r="2.1" fill="#111"/>
<text transform="translate(429.8,209.6) scale(0.92,1)" x="0" y="0" font-size="6.3" text-anchor="start" style="font-family:'Liberation Serif',serif;font-weight:bold" fill="#111" stroke="#111" stroke-width="0.38" >OCI-AML3vec</text>
<text transform="translate(429.8,218.5) scale(0.92,1)" x="0" y="0" font-size="6.3" text-anchor="start" style="font-family:'Liberation Serif',serif;font-weight:bold" fill="#111" stroke="#111" stroke-width="0.38" >OCI-AML3Bcl-2</text>
<text transform="translate(379.2,252.1) rotate(-90) scale(1.045,1)" x="0" y="0" font-size="9.3" text-anchor="middle" style="font-family:'Liberation Serif',serif;font-weight:bold" fill="#111" stroke="#111" stroke-width="0.22">Annexin V+ (%)</text>
<text x="433" y="342.2" font-size="9.8" text-anchor="start" style="font-family:'Liberation Serif',serif;font-weight:bold" fill="#111" stroke="#111" stroke-width="0.22" >triptolide, nM</text>
<text transform="translate(72.8,388.9) scale(0.93,1)" x="0" y="0" font-size="8.6" text-anchor="middle" style="font-family:'Liberation Serif',serif;font-weight:bold" fill="#111" stroke="#111" stroke-width="0.22" >OCI-AML3</text>
<text transform="translate(26.3,404.4) scale(0.93,1)" x="0" y="0" font-size="8.6" text-anchor="end" style="font-family:'Liberation Serif',serif;font-weight:bold" fill="#111" stroke="#111" stroke-width="0.22" >Mcl-1</text>
<text transform="translate(26.3,414.8) scale(0.93,1)" x="0" y="0" font-size="8.6" text-anchor="end" style="font-family:'Liberation Serif',serif;font-weight:bold" fill="#111" stroke="#111" stroke-width="0.22" >&#946;-actin</text>
<text transform="translate(159,388.1) scale(0.93,1)" x="0" y="0" font-size="8.6" text-anchor="middle" style="font-family:'Liberation Serif',serif;font-weight:bold" fill="#111" stroke="#111" stroke-width="0.22" >U937</text>
<text transform="translate(247.5,388.6) scale(0.93,1)" x="0" y="0" font-size="8.6" text-anchor="middle" style="font-family:'Liberation Serif',serif;font-weight:bold" fill="#111" stroke="#111" stroke-width="0.22" >HL-60</text>
<text transform="translate(316.5,407.3) scale(0.93,1)" x="0" y="0" font-size="8.6" text-anchor="end" style="font-family:'Liberation Serif',serif;font-weight:bold" fill="#111" stroke="#111" stroke-width="0.22" >Mcl-1</text>
<text transform="translate(317.2,416.8) scale(0.93,1)" x="0" y="0" font-size="8.6" text-anchor="end" style="font-family:'Liberation Serif',serif;font-weight:bold" fill="#111" stroke="#111" stroke-width="0.22" >&#946;-actin</text>
<text transform="translate(367.9,383.1) scale(0.93,1)" x="0" y="0" font-size="8.6" text-anchor="middle" style="font-family:'Liberation Serif',serif;font-weight:bold" fill="#111" stroke="#111" stroke-width="0.22" >AML blasts</text>
<text transform="translate(127,449.4) scale(0.93,1)" x="0" y="0" font-size="8.6" text-anchor="start" style="font-family:'Liberation Serif',serif;font-weight:bold" fill="#111" stroke="#111" stroke-width="0.22" >triptolide, nM</text>
<text transform="translate(396.3,449.9) scale(0.93,1)" x="0" y="0" font-size="8.6" text-anchor="start" style="font-family:'Liberation Serif',serif;font-weight:bold" fill="#111" stroke="#111" stroke-width="0.22" >triptolide, nM</text>
<text x="46.25" y="432.3" font-size="8.3" text-anchor="middle" style="font-family:'Liberation Serif',serif;font-weight:bold" fill="#111" stroke="#111" stroke-width="0.22" >0</text>
<text x="61.75" y="432.3" font-size="8.3" text-anchor="middle" style="font-family:'Liberation Serif',serif;font-weight:bold" fill="#111" stroke="#111" stroke-width="0.22" >25</text>
<text x="76.75" y="432.3" font-size="8.3" text-anchor="middle" style="font-family:'Liberation Serif',serif;font-weight:bold" fill="#111" stroke="#111" stroke-width="0.22" >50</text>
<text x="93.75" y="432.3" font-size="8.3" text-anchor="middle" style="font-family:'Liberation Serif',serif;font-weight:bold" fill="#111" stroke="#111" stroke-width="0.22" >100</text>
<text x="128.25" y="431.3" font-size="8.3" text-anchor="middle" style="font-family:'Liberation Serif',serif;font-weight:bold" fill="#111" stroke="#111" stroke-width="0.22" >0</text>
<text x="143" y="431.3" font-size="8.3" text-anchor="middle" style="font-family:'Liberation Serif',serif;font-weight:bold" fill="#111" stroke="#111" stroke-width="0.22" >10</text>
<text x="158" y="431.3" font-size="8.3" text-anchor="middle" style="font-family:'Liberation Serif',serif;font-weight:bold" fill="#111" stroke="#111" stroke-width="0.22" >25</text>
<text x="172" y="431.3" font-size="8.3" text-anchor="middle" style="font-family:'Liberation Serif',serif;font-weight:bold" fill="#111" stroke="#111" stroke-width="0.22" >50</text>
<text x="186.25" y="431.3" font-size="8.3" text-anchor="middle" style="font-family:'Liberation Serif',serif;font-weight:bold" fill="#111" stroke="#111" stroke-width="0.22" >100</text>
<text x="216.25" y="431.3" font-size="8.3" text-anchor="middle" style="font-family:'Liberation Serif',serif;font-weight:bold" fill="#111" stroke="#111" stroke-width="0.22" >0</text>
<text x="231.25" y="431.3" font-size="8.3" text-anchor="middle" style="font-family:'Liberation Serif',serif;font-weight:bold" fill="#111" stroke="#111" stroke-width="0.22" >10</text>
<text x="245.75" y="431.3" font-size="8.3" text-anchor="middle" style="font-family:'Liberation Serif',serif;font-weight:bold" fill="#111" stroke="#111" stroke-width="0.22" >25</text>
<text x="259.5" y="431.3" font-size="8.3" text-anchor="middle" style="font-family:'Liberation Serif',serif;font-weight:bold" fill="#111" stroke="#111" stroke-width="0.22" >50</text>
<text x="274.5" y="431.3" font-size="8.3" text-anchor="middle" style="font-family:'Liberation Serif',serif;font-weight:bold" fill="#111" stroke="#111" stroke-width="0.22" >100</text>
<text x="335" y="431.3" font-size="8.3" text-anchor="middle" style="font-family:'Liberation Serif',serif;font-weight:bold" fill="#111" stroke="#111" stroke-width="0.22" >0</text>
<text x="358.75" y="431.3" font-size="8.3" text-anchor="middle" style="font-family:'Liberation Serif',serif;font-weight:bold" fill="#111" stroke="#111" stroke-width="0.22" >25</text>
<text x="380.5" y="431.3" font-size="8.3" text-anchor="middle" style="font-family:'Liberation Serif',serif;font-weight:bold" fill="#111" stroke="#111" stroke-width="0.22" >50</text>
<text x="402.5" y="431.3" font-size="8.3" text-anchor="middle" style="font-family:'Liberation Serif',serif;font-weight:bold" fill="#111" stroke="#111" stroke-width="0.22" >100</text>
<rect x="39.70" y="399.00" width="13.90" height="6.10" rx="1.2" fill="#262626" filter="url(#bl1)"/>
<rect x="40.00" y="399.20" width="13.40" height="2.60" rx="1.2" fill="#0c0c0c" filter="url(#bl1)"/>
<rect x="55.90" y="400.40" width="12.10" height="3.60" rx="1.2" fill="#2a2a2a" filter="url(#bl1)"/>
<rect x="71.10" y="401.00" width="11.70" height="3.30" rx="1.2" fill="#a0a0a0" filter="url(#bl1)"/>
<rect x="86.80" y="401.50" width="12.50" height="2.50" rx="1.2" fill="#a8a8a8" filter="url(#bl1)"/>
<rect x="38.80" y="408.90" width="14.80" height="6.30" rx="1.2" fill="#0c0c0c" filter="url(#bl1)"/>
<rect x="55.90" y="410.20" width="13.40" height="4.10" rx="1.2" fill="#141414" filter="url(#bl1)"/>
<rect x="71.10" y="410.20" width="13.70" height="4.10" rx="1.2" fill="#141414" filter="url(#bl1)"/>
<rect x="87.20" y="410.50" width="11.10" height="3.50" rx="1.2" fill="#161616" filter="url(#bl1)"/>
<rect x="122.60" y="398.60" width="14.60" height="2.60" rx="1.2" fill="#141414" filter="url(#bl1)"/>
<rect x="122.60" y="401.20" width="14.60" height="3.60" rx="1.2" fill="#b0b0b0" filter="url(#bl1)"/>
<rect x="138.80" y="398.60" width="11.50" height="2.60" rx="1.2" fill="#141414" filter="url(#bl1)"/>
<rect x="138.80" y="401.20" width="11.50" height="3.60" rx="1.2" fill="#b0b0b0" filter="url(#bl1)"/>
<rect x="151.80" y="399.40" width="12.00" height="2.90" rx="1.2" fill="#181818" filter="url(#bl1)"/>
<rect x="151.80" y="402.30" width="12.00" height="2.20" rx="1.2" fill="#d0d0d0" filter="url(#bl1)"/>
<rect x="166.90" y="400.00" width="10.30" height="3.40" rx="1.2" fill="#8a8a8a" filter="url(#bl1)"/>
<rect x="180.30" y="400.50" width="10.00" height="2.50" rx="1.2" fill="#e2e2e2" filter="url(#bl1)"/>
<rect x="122.60" y="409.80" width="13.40" height="3.30" rx="1.2" fill="#101010" filter="url(#bl1)"/>
<rect x="136.50" y="409.80" width="13.50" height="3.30" rx="1.2" fill="#101010" filter="url(#bl1)"/>
<rect x="151.50" y="409.80" width="12.50" height="3.30" rx="1.2" fill="#101010" filter="url(#bl1)"/>
<rect x="164.90" y="409.80" width="12.60" height="3.30" rx="1.2" fill="#101010" filter="url(#bl1)"/>
<rect x="178.80" y="409.80" width="12.70" height="3.30" rx="1.2" fill="#101010" filter="url(#bl1)"/>
<rect x="211.20" y="399.40" width="13.80" height="3.20" rx="1.2" fill="#141414" filter="url(#bl1)"/>
<rect x="211.20" y="406.80" width="13.80" height="2.60" rx="1.2" fill="#c0c0c0" filter="url(#bl1)"/>
<rect x="228.00" y="399.40" width="11.20" height="3.20" rx="1.2" fill="#141414" filter="url(#bl1)"/>
<rect x="228.00" y="406.80" width="11.20" height="2.60" rx="1.2" fill="#c0c0c0" filter="url(#bl1)"/>
<rect x="241.20" y="399.40" width="12.30" height="3.20" rx="1.2" fill="#141414" filter="url(#bl1)"/>
<rect x="241.20" y="406.80" width="12.30" height="2.60" rx="1.2" fill="#c0c0c0" filter="url(#bl1)"/>
<rect x="255.00" y="399.60" width="10.80" height="3.40" rx="1.2" fill="#e2e2e2" filter="url(#bl1)"/>
<rect x="271.20" y="399.80" width="10.70" height="3.20" rx="1.2" fill="#e6e6e6" filter="url(#bl1)"/>
<rect x="211.00" y="410.60" width="15.50" height="3.30" rx="1.2" fill="#101010" filter="url(#bl1)"/>
<rect x="227.00" y="410.60" width="13.50" height="3.30" rx="1.2" fill="#101010" filter="url(#bl1)"/>
<rect x="241.00" y="410.60" width="13.50" height="3.30" rx="1.2" fill="#101010" filter="url(#bl1)"/>
<rect x="255.00" y="410.60" width="13.50" height="3.30" rx="1.2" fill="#101010" filter="url(#bl1)"/>
<rect x="270.00" y="410.60" width="12.00" height="3.30" rx="1.2" fill="#101010" filter="url(#bl1)"/>
<polygon points="326.4,398.6 330,399.4 337,401.6 345.8,403.0 346,407.0 337,405.8 330,403.6 326.6,402.2" fill="#0e0e0e" filter="url(#bl05)"/>
<rect x="349.70" y="402.80" width="17.70" height="3.90" rx="1.2" fill="#121212" filter="url(#bl1)"/>
<rect x="371.60" y="402.70" width="18.00" height="3.80" rx="1.2" fill="#141414" filter="url(#bl1)"/>
<rect x="394.90" y="401.90" width="15.00" height="3.40" rx="1.2" fill="#181818" filter="url(#bl1)"/>
<polygon points="328.3,411.2 336,413.0 346.4,414.2 346.4,419.0 336,418.4 328.2,415.6" fill="#0a0a0a" filter="url(#bl05)"/>
<rect x="348.60" y="414.30" width="20.60" height="4.70" rx="1.2" fill="#0c0c0c" filter="url(#bl1)"/>
<rect x="370.70" y="414.30" width="19.80" height="4.60" rx="1.2" fill="#0c0c0c" filter="url(#bl1)"/>
<rect x="392.80" y="414.10" width="20.20" height="4.40" rx="1.2" fill="#0e0e0e" filter="url(#bl1)"/>
<line x1="450.20" y1="380.60" x2="450.20" y2="431.40" stroke="#333" stroke-width="0.9" />
<line x1="450.20" y1="431.40" x2="518.00" y2="431.40" stroke="#333" stroke-width="0.9" />
<line x1="448.20" y1="431.40" x2="450.20" y2="431.40" stroke="#333" stroke-width="0.7" />
<line x1="448.20" y1="421.40" x2="450.20" y2="421.40" stroke="#333" stroke-width="0.7" />
<text transform="translate(444.8,423.79999999999995) scale(0.74,1)" x="0" y="0" font-size="7.4" text-anchor="end" style="font-family:'Liberation Serif',serif;font-weight:bold" fill="#111" stroke="#111" stroke-width="0.3" >0.3</text>
<line x1="448.20" y1="411.40" x2="450.20" y2="411.40" stroke="#333" stroke-width="0.7" />
<text transform="translate(444.8,413.79999999999995) scale(0.74,1)" x="0" y="0" font-size="7.4" text-anchor="end" style="font-family:'Liberation Serif',serif;font-weight:bold" fill="#111" stroke="#111" stroke-width="0.3" >0.6</text>
<line x1="448.20" y1="401.40" x2="450.20" y2="401.40" stroke="#333" stroke-width="0.7" />
<text transform="translate(444.8,403.79999999999995) scale(0.74,1)" x="0" y="0" font-size="7.4" text-anchor="end" style="font-family:'Liberation Serif',serif;font-weight:bold" fill="#111" stroke="#111" stroke-width="0.3" >0.9</text>
<line x1="448.20" y1="391.40" x2="450.20" y2="391.40" stroke="#333" stroke-width="0.7" />
<text transform="translate(444.8,393.79999999999995) scale(0.74,1)" x="0" y="0" font-size="7.4" text-anchor="end" style="font-family:'Liberation Serif',serif;font-weight:bold" fill="#111" stroke="#111" stroke-width="0.3" >1.2</text>
<line x1="448.20" y1="381.40" x2="450.20" y2="381.40" stroke="#333" stroke-width="0.7" />
<text transform="translate(444.8,383.79999999999995) scale(0.74,1)" x="0" y="0" font-size="7.4" text-anchor="end" style="font-family:'Liberation Serif',serif;font-weight:bold" fill="#111" stroke="#111" stroke-width="0.3" >1.5</text>
<text x="438.3" y="434.6" font-size="5.6" text-anchor="middle" style="font-family:'Liberation Serif',serif;font-weight:bold" fill="#111" stroke="#111" stroke-width="0.22" >-</text>
<line x1="450.50" y1="431.40" x2="450.50" y2="433.60" stroke="#333" stroke-width="0.7" />
<line x1="467.40" y1="431.40" x2="467.40" y2="433.60" stroke="#333" stroke-width="0.7" />
<line x1="484.30" y1="431.40" x2="484.30" y2="433.60" stroke="#333" stroke-width="0.7" />
<line x1="501.20" y1="431.40" x2="501.20" y2="433.60" stroke="#333" stroke-width="0.7" />
<line x1="518.10" y1="431.40" x2="518.10" y2="433.60" stroke="#333" stroke-width="0.7" />
<rect x="455.9" y="398.00" width="7.10" height="33.40" fill="#111"/>
<rect x="472.8" y="393.99" width="6.80" height="37.41" fill="#111"/>
<line x1="476.20" y1="387.31" x2="476.20" y2="393.99" stroke="#222" stroke-width="0.8" />
<line x1="474.90" y1="387.31" x2="477.50" y2="387.31" stroke="#222" stroke-width="0.8" />
<rect x="489.9" y="415.70" width="6.90" height="15.70" fill="#111"/>
<line x1="493.35" y1="408.02" x2="493.35" y2="415.70" stroke="#222" stroke-width="0.8" />
<line x1="492.05" y1="408.02" x2="494.65" y2="408.02" stroke="#222" stroke-width="0.8" />
<rect x="506.4" y="418.37" width="6.90" height="13.03" fill="#111"/>
<line x1="509.85" y1="412.36" x2="509.85" y2="418.37" stroke="#222" stroke-width="0.8" />
<line x1="508.55" y1="412.36" x2="511.15" y2="412.36" stroke="#222" stroke-width="0.8" />
<text transform="translate(458.8,444.6) scale(0.72,1)" x="0" y="0" font-size="7.9" text-anchor="middle" style="font-family:'Liberation Serif',serif;font-weight:bold" fill="#111" stroke="#111" stroke-width="0.3" >0</text>
<text transform="translate(475.9,444.6) scale(0.72,1)" x="0" y="0" font-size="7.9" text-anchor="middle" style="font-family:'Liberation Serif',serif;font-weight:bold" fill="#111" stroke="#111" stroke-width="0.3" >25</text>
<text transform="translate(493,444.6) scale(0.72,1)" x="0" y="0" font-size="7.9" text-anchor="middle" style="font-family:'Liberation Serif',serif;font-weight:bold" fill="#111" stroke="#111" stroke-width="0.3" >50</text>
<text transform="translate(509.7,444.6) scale(0.72,1)" x="0" y="0" font-size="7.9" text-anchor="middle" style="font-family:'Liberation Serif',serif;font-weight:bold" fill="#111" stroke="#111" stroke-width="0.3" >100</text>
<text transform="translate(483.2,370.5) scale(0.93,1)" x="0" y="0" font-size="8.6" text-anchor="middle" style="font-family:'Liberation Serif',serif;font-weight:bold" fill="#111" stroke="#111" stroke-width="0.22" >AML samples</text>
<text transform="translate(486.6,384.9) scale(0.93,1)" x="0" y="0" font-size="8.6" text-anchor="middle" style="font-family:'Liberation Serif',serif;font-weight:bold" fill="#111" stroke="#111" stroke-width="0.22" >Mcl-1 (n=6)</text>
<text transform="translate(433.1,404.2) rotate(-90) scale(1.04,1)" x="0" y="0" font-size="7.8" text-anchor="middle" style="font-family:'Liberation Serif',serif;font-weight:bold" fill="#111" stroke="#111" stroke-width="0.22">relative levels</text>
</svg>
</body></html>
